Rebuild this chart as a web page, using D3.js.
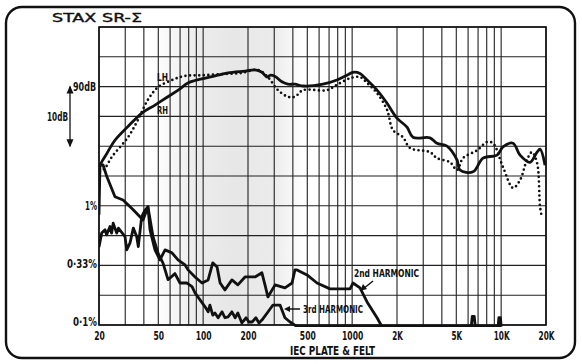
<!DOCTYPE html>
<html><head><meta charset="utf-8">
<script src="https://cdn.jsdelivr.net/npm/d3@7"></script>
<style>
html,body{margin:0;padding:0;background:#fff;}
svg{display:block;}
text{font-family:"DejaVu Sans Condensed","Liberation Sans Narrow","DejaVu Sans",sans-serif;fill:#111;}
</style></head>
<body>
<script>
// ---- data ----
const freqTicks = [20,50,100,200,500,1000,2000,5000,10000,20000];
const freqTickLabels = ["20","50","100","200","500","1000","2K","5K","10K","20K"];
const gridFreqs = [20,30,40,50,60,70,80,90,100,200,300,400,500,600,700,800,900,1000,2000,3000,4000,5000,6000,7000,8000,9000,10000,20000];
const dbGrid = [50,55,60,65,70,75,80,85,90,95,100];
const distLabels = [{v:1,t:"1%"},{v:0.33,t:"0·33%"},{v:0.1,t:"0·1%"}];

// Right channel (solid) : Hz, dB
const rhFreq = [20,21,22,25.6,31,39,47.5,58,68,79,98,120,147,191,223,248,269,281,304,338,371,413,468,637,791,923,1013,1129,1259,1469,1715,2000,2335,2561,3329,3708,4330,5055,5297,6473,7557,9380,10290,12010,13390,15630,17420,18250,19700];
const rhDb   = [76.5,77.5,78.3,81.0,83.2,85.6,86.9,88.3,89.4,90.6,91.3,91.8,92.3,92.6,92.8,92.4,91.6,91.9,91.7,90.8,90.4,90.4,90.1,90.4,91.1,91.9,92.4,92.2,91.1,89.4,87.2,84.7,83.2,81.5,81.4,80.5,80.0,77.7,76.0,75.7,78.0,78.5,79.9,80.5,78.5,77.3,79.0,79.5,76.8];

// Left channel (dotted) : Hz, dB
const lhFreq = [20.3,21.9,24.4,31.3,36.5,42.6,49.8,61.8,75.6,98,134,182,233,272,318,371,413,468,678,791,968,1129,1259,1469,1715,1880,2194,2446,3329,3708,4538,5055,5546,6886,8036,8816,10290,12010,13390,14900,16100,17420,18250,18800];
const lhDb   = [75.7,76.3,78.2,81.5,84.4,87.8,89.9,91.1,91.8,91.9,92.1,92.3,92.8,91.6,89.4,88.3,88.3,89.4,89.4,90.3,91.4,91.6,90.6,88.9,86.1,82.7,81.5,79.7,79.0,78.0,77.3,76.0,78.0,79.3,80.7,80.5,76.5,73.0,74.3,77.7,79.0,77.2,69.8,68.0];

// 2nd harmonic distortion : Hz, %
const h2Freq = [20,20.85,21.95,22.5,23.7,24.3,24.9,26.3,27,29.9,30.7,32.3,34,35.8,36.7,38.7,40.8,42.6,44,47.5,51.3,55.5,61.8,67.8,75.6,79.2,88.2,98.3,108,116,124,130,140,156,171,191,223,248,260,272,304,354,395,413,427,498,581,710,968,1013,1129,1259,1469,1586,10000];
const h2Pct  = [0.452,0.59,0.629,0.571,0.67,0.59,0.715,0.59,0.65,0.552,0.427,0.489,0.65,0.552,0.455,0.813,0.925,0.98,0.629,0.427,0.352,0.427,0.403,0.352,0.319,0.29,0.253,0.225,0.239,0.332,0.307,0.225,0.197,0.239,0.217,0.253,0.253,0.274,0.217,0.172,0.217,0.205,0.225,0.29,0.29,0.263,0.225,0.201,0.201,0.225,0.205,0.156,0.115,0.097,0.097];

// 3rd harmonic distortion : Hz, %
const h3Freq = [20,20.3,21.3,22.6,25.6,29,33.8,39.5,42.6,46.1,49.8,53.8,58.1,64.7,69.9,77.9,84.2,88.2,103,108,111,116,120,126,134,140,147,156,164,171,182,194,203,213,226,237,248,269,294,328,354,383,427,6300,6400,6600,6700,9550,9650,9900,10000];
const h3Pct  = [0.84,2.2,2.2,1.75,1.19,1.12,0.93,0.76,0.98,0.55,0.40,0.33,0.24,0.27,0.225,0.225,0.21,0.186,0.142,0.129,0.147,0.121,0.126,0.115,0.129,0.115,0.117,0.129,0.115,0.126,0.104,0.115,0.106,0.106,0.115,0.104,0.11,0.126,0.147,0.147,0.115,0.106,0.097,0.097,0.118,0.118,0.097,0.097,0.115,0.115,0.097];

// ---- drawing ----
const W = 582, H = 364;
const svg = d3.select("body").append("svg").attr("width", W).attr("height", H);
const L = 99, R = 546, T = 27, B = 325;
const x = d3.scaleLog().domain([20,20000]).range([L,R]);
const y = d3.scaleLinear().domain([50,100]).range([B,T]);
const yd = d3.scaleLog().domain([0.1,1]).range([B, y(70)]);

const defs = svg.append("defs");
const g = defs.append("linearGradient").attr("id","shade").attr("x1","0").attr("x2","1").attr("y1","0").attr("y2","0");
[[0,0],[0.3,0.8],[0.55,1],[0.8,0.8],[1,0]].forEach(([o,a])=>
  g.append("stop").attr("offset",o).attr("stop-color","#e7e7e7").attr("stop-opacity",a));
defs.append("clipPath").attr("id","plot").append("rect").attr("x",L).attr("y",T-2).attr("width",R-L).attr("height",B-T+4);

svg.append("rect").attr("x",x(45)).attr("y",T).attr("width",x(480)-x(45)).attr("height",B-T).attr("fill","url(#shade)");

// frame
svg.append("rect").attr("x",6).attr("y",7).attr("width",569).attr("height",351).attr("rx",16).attr("ry",16)
  .attr("fill","none").attr("stroke","#111").attr("stroke-width",2.4);

// grid
const grid = svg.append("g").attr("stroke","#222").attr("stroke-width",1.1);
grid.selectAll("line.v").data(gridFreqs).join("line").attr("class","v")
  .attr("x1",d=>x(d)).attr("x2",d=>x(d)).attr("y1",T).attr("y2",B);
grid.selectAll("line.h").data(dbGrid).join("line").attr("class","h")
  .attr("x1",L).attr("x2",R).attr("y1",d=>y(d)).attr("y2",d=>y(d));
svg.append("rect").attr("x",L).attr("y",T).attr("width",R-L).attr("height",B-T)
  .attr("fill","none").attr("stroke","#111").attr("stroke-width",1.6);

function narrow(sel, w){ sel.attr("textLength", w).attr("lengthAdjust","spacingAndGlyphs"); return sel; }

// x axis labels via d3 axis
const xAxis = d3.axisBottom(x).tickValues(freqTicks).tickSize(0).tickPadding(0)
  .tickFormat((d,i)=>freqTickLabels[i]);
const ax = svg.append("g").attr("transform",`translate(0,${B+6})`).call(xAxis);
ax.select(".domain").remove();
ax.selectAll("text").attr("font-size",12.5).attr("font-weight","bold").attr("fill","#111")
  .attr("dy","0.72em").style("font-family",'"DejaVu Sans Condensed","Liberation Sans Narrow","DejaVu Sans",sans-serif')
  .each(function(d,i){ narrow(d3.select(this), freqTickLabels[i].length*5.3); });

narrow(svg.append("text").attr("x",290).attr("y",355)
  .attr("font-size",12).attr("font-weight","bold").text("IEC PLATE & FELT"), 85);

// title
narrow(svg.append("text").attr("x",52).attr("y",22).attr("font-size",12.5)
  .attr("stroke","#111").attr("stroke-width",0.35).text("STAX  SR-Σ"), 90);

// y labels
narrow(svg.append("text").attr("x",73).attr("y",y(90)+4.5).attr("font-size",12).attr("font-weight","bold").text("90dB"), 23);
narrow(svg.append("text").attr("x",47).attr("y",y(85)+4.5).attr("font-size",12).attr("font-weight","bold").text("10dB"), 21);
svg.append("line").attr("x1",70).attr("x2",70).attr("y1",y(90)).attr("y2",y(80)).attr("stroke","#111").attr("stroke-width",1.3);
svg.append("path").attr("d",`M66.5,${y(90)+7}L70,${y(90)-1}L73.5,${y(90)+7}Z`).attr("fill","#111");
svg.append("path").attr("d",`M66.5,${y(80)-7}L70,${y(80)+1}L73.5,${y(80)-7}Z`).attr("fill","#111");
const dlW = {"1%":12,"0·33%":30,"0·1%":24};
svg.selectAll("text.dl").data(distLabels).join("text").attr("class","dl")
  .attr("x",d=>97-dlW[d.t]).attr("y",d=>Math.min(yd(d.v)+4.5, B+1))
  .attr("font-size",12).attr("font-weight","bold").text(d=>d.t)
  .attr("textLength",d=>dlW[d.t]).attr("lengthAdjust","spacingAndGlyphs");

// curves
const plot = svg.append("g").attr("clip-path","url(#plot)");
const resp = d3.line().x(d=>x(d[0])).y(d=>y(d[1])).curve(d3.curveCatmullRom.alpha(0.5));
const dist = d3.line().x(d=>x(d[0])).y(d=>yd(d[1]));
const rh = rhFreq.map((f,i)=>[f,rhDb[i]]);
const lh = lhFreq.map((f,i)=>[f,lhDb[i]]);
const h2 = h2Freq.map((f,i)=>[f,h2Pct[i]]);
const h3 = h3Freq.map((f,i)=>[f,h3Pct[i]]);

plot.append("path").attr("d",dist(h3)).attr("fill","none").attr("stroke","#111").attr("stroke-width",2.8).attr("stroke-linejoin","round");
plot.append("path").attr("d",dist(h2)).attr("fill","none").attr("stroke","#111").attr("stroke-width",2.8).attr("stroke-linejoin","round");
plot.append("path").attr("d",resp(rh)).attr("fill","none").attr("stroke","#111").attr("stroke-width",2.8).attr("stroke-linejoin","round");
plot.append("path").attr("d",resp(lh)).attr("fill","none").attr("stroke","#111").attr("stroke-width",2.7)
  .attr("stroke-linecap","round").attr("stroke-dasharray","0 4.6");

// curve labels
narrow(svg.append("text").attr("x",157).attr("y",81).attr("font-size",10.5).attr("font-weight","bold").text("LH"), 11);
narrow(svg.append("text").attr("x",157).attr("y",114).attr("font-size",10.5).attr("font-weight","bold").text("RH"), 11);
narrow(svg.append("text").attr("x",354).attr("y",277).attr("font-size",10.5).attr("font-weight","bold").text("2nd HARMONIC"), 65);
narrow(svg.append("text").attr("x",303).attr("y",313).attr("font-size",10.5).attr("font-weight","bold").text("3rd HARMONIC"), 60);
svg.append("line").attr("x1",373).attr("y1",281).attr("x2",363).attr("y2",289).attr("stroke","#111").attr("stroke-width",1.5);
svg.append("path").attr("d","M360,291L363,284L367,289Z").attr("fill","#111");
svg.append("line").attr("x1",300).attr("y1",309).attr("x2",287).attr("y2",309).attr("stroke","#111").attr("stroke-width",1.5);
svg.append("path").attr("d","M284,309L290,306L290,312Z").attr("fill","#111");
</script>
</body></html>
